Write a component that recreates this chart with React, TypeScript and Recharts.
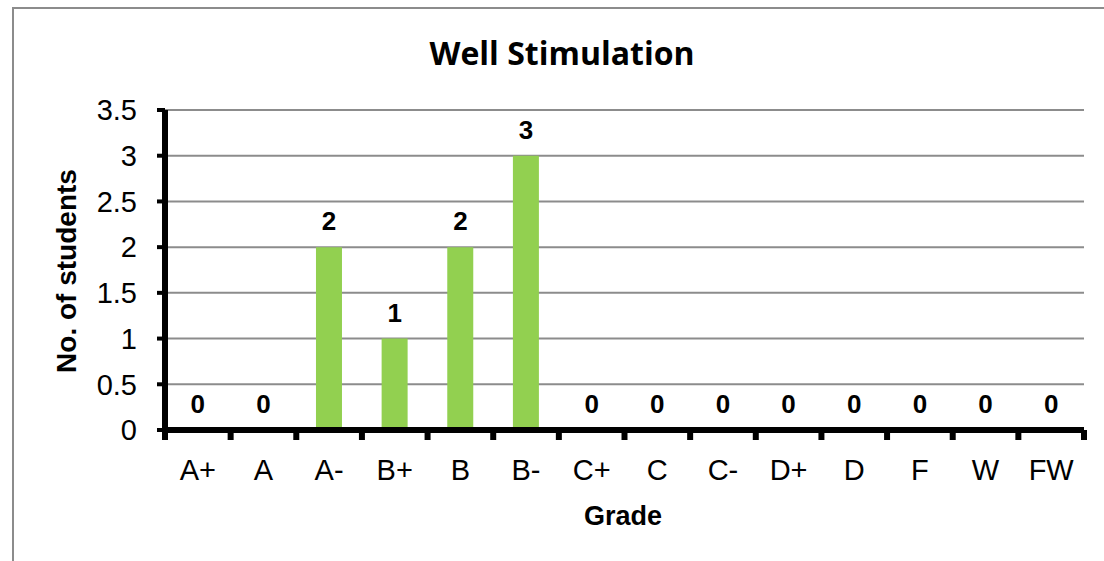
import React from 'react';
import { ComposedChart, Bar, Line, XAxis, YAxis, CartesianGrid, LabelList } from 'recharts';

const grades = ['A+', 'A', 'A-', 'B+', 'B', 'B-', 'C+', 'C', 'C-', 'D+', 'D', 'F', 'W', 'FW'];
const students = [0, 0, 2, 1, 2, 3, 0, 0, 0, 0, 0, 0, 0, 0];
const yTicks = [0, 0.5, 1, 1.5, 2, 2.5, 3, 3.5];

const W = 1104;
const H = 561;
const PLOT_LEFT = 165;
const PLOT_RIGHT = 1084;
const PLOT_TOP = 110;
const AXIS_Y = 430;
const BAND = (PLOT_RIGHT - PLOT_LEFT) / grades.length;
const FONT = '"Liberation Sans", Arial, sans-serif';

const data = grades.map((g, i) => ({ grade: g, students: students[i] }));

// category ticks sit on the boundaries between grades, label in the middle
const GradeTick = (props: any) => {
  const { x, payload, index } = props;
  const half = BAND / 2;
  return (
    <g>
      <line x1={x - half} x2={x - half} y1={AXIS_Y} y2={AXIS_Y + 10} stroke="#000" strokeWidth={6} />
      {index === grades.length - 1 && (
        <line x1={x + half} x2={x + half} y1={AXIS_Y} y2={AXIS_Y + 10} stroke="#000" strokeWidth={6} />
      )}
      <text x={x} y={480} textAnchor="middle" fontSize={29} fontFamily={FONT} fill="#000">
        {payload.value}
      </text>
    </g>
  );
};

export default function App() {
  return (
    <div style={{ position: 'absolute', left: 0, top: 0, width: W, height: H, background: '#fff', overflow: 'hidden' }}>
      <div
        style={{
          position: 'absolute',
          left: 12,
          top: 7,
          width: W,
          height: H,
          borderTop: '2px solid #8c8c8c',
          borderLeft: '2px solid #8c8c8c',
        }}
      />
      <div style={{ position: 'absolute', left: 0, top: 0 }}>
        <ComposedChart
          width={W}
          height={H}
          data={data}
          margin={{ top: PLOT_TOP, right: W - PLOT_RIGHT, left: PLOT_LEFT - 100, bottom: H - AXIS_Y - 60 }}
          barCategoryGap="30%"
        >
          <CartesianGrid vertical={false} stroke="#8c8c8c" strokeWidth={2} />
          <XAxis
            dataKey="grade"
            height={60}
            interval={0}
            axisLine={{ stroke: '#000', strokeWidth: 6 }}
            tickLine={false}
            tick={<GradeTick />}
          />
          <YAxis
            width={100}
            domain={[0, 3.5]}
            ticks={yTicks}
            interval={0}
            axisLine={{ stroke: '#000', strokeWidth: 6 }}
            tickLine={{ stroke: '#000', strokeWidth: 4 }}
            tickSize={8}
            tickMargin={20}
            tick={{ fontSize: 29, fontFamily: FONT, fill: '#000' }}
          />
          <Bar dataKey="students" fill="#92D050" isAnimationActive={false} />
          {/* invisible series so the zero values get their labels too */}
          <Line
            dataKey="students"
            stroke="none"
            dot={false}
            activeDot={false}
            legendType="none"
            isAnimationActive={false}
          >
            <LabelList
              dataKey="students"
              position="top"
              offset={17}
              style={{ fontSize: 26, fontWeight: 'bold', fontFamily: FONT, fill: '#000' }}
            />
          </Line>
        </ComposedChart>
      </div>
      <svg width={W} height={H} style={{ position: 'absolute', left: 0, top: 0, pointerEvents: 'none' }}>
        <text x={562} y={65} textAnchor="middle" fontSize={32} fontWeight="bold" fontFamily='"Open Sans", sans-serif' fill="#000">
          Well Stimulation
        </text>
        <text x={623} y={525} textAnchor="middle" fontSize={27} fontWeight="bold" fontFamily={FONT} fill="#000">
          Grade
        </text>
        <text
          x={76}
          y={271}
          textAnchor="middle"
          fontSize={28}
          fontWeight="bold"
          fontFamily={FONT}
          fill="#000"
          transform="rotate(-90 76 271)"
        >
          No. of students
        </text>
      </svg>
    </div>
  );
}
